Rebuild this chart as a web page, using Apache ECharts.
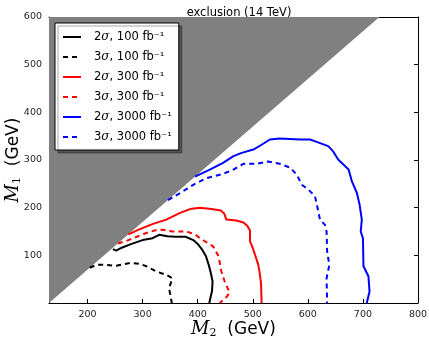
<!DOCTYPE html>
<html>
<head>
<meta charset="utf-8">
<script src="https://cdn.jsdelivr.net/npm/echarts@6/dist/echarts.min.js"></script>
<style>
    html, body { margin: 0; padding: 0; background: #fff; }
    #exclusion-chart { width: 429px; height: 341px; }
</style>
</head>
<body>
<div id="exclusion-chart"></div>
<script>
// kinematically forbidden region: M1 > M2 - 130
const forbidden = [[130, 0], [730, 600]];

// contours, [M2, M1] in GeV
const sig2L100 = [[246, 113], [252, 110], [262, 116], [280, 124], [300, 132], [318, 136], [330, 143], [345, 140],
    [360, 139], [378, 139], [392, 132], [400, 124], [408, 112], [415, 98], [420, 80], [424, 62], [427, 45], [426, 25], [421, 0]];
const sig3L100 = [[204, 74], [216, 80], [234, 80], [252, 78], [277, 84], [295, 82], [307, 77], [325, 66], [343, 59],
    [354, 52], [348, 31], [353, 0]];
const sig2L300 = [[274, 144], [295, 155], [319, 166], [343, 175], [368, 189], [386, 197], [404, 200], [425, 197],
    [442, 194], [448, 188], [452, 175], [470, 173], [483, 169], [490, 162], [495, 152], [495, 130], [500, 115],
    [505, 98], [510, 80], [513, 60], [515, 40], [516, 0]];
const sig3L300 = [[255, 125], [270, 130], [283, 136], [307, 147], [328, 154], [340, 153], [355, 150], [380, 150],
    [395, 144], [404, 136], [418, 126], [428, 119], [437, 100], [440, 85], [443, 66], [449, 45], [458, 22], [452, 12], [440, 0]];
const sig2L3000 = [[395, 265], [422, 280], [446, 294], [465, 308], [480, 315], [501, 322], [516, 332], [531, 343],
    [549, 345], [586, 343], [604, 343], [616, 338], [637, 329], [646, 318], [655, 301], [674, 280], [680, 255],
    [689, 231], [694, 206], [698, 175], [696, 150], [700, 136], [701, 77], [710, 56], [712, 24], [707, 0]];
const sig3L3000 = [[346, 216], [370, 232], [392, 248], [416, 262], [446, 271], [465, 280], [483, 292], [507, 292],
    [528, 297], [549, 292], [568, 284], [580, 269], [589, 248], [601, 238], [613, 224], [619, 192], [622, 175],
    [631, 164], [634, 150], [635, 108], [639, 80], [634, 52], [635, 0]];

const names = ['2σ, 100 fb⁻¹', '3σ, 100 fb⁻¹', '2σ, 300 fb⁻¹', '3σ, 300 fb⁻¹', '2σ, 3000 fb⁻¹', '3σ, 3000 fb⁻¹'];
const xTicks = [200, 300, 400, 500, 600, 700, 800];
const yTicks = [100, 200, 300, 400, 500, 600];

const FONT = 'DejaVu Sans';
const dash = [5, 4];

function contour(name, data, color, dashed) {
    return {
        name: name,
        type: 'line',
        data: data,
        symbol: 'none',
        z: 3,
        color: color,
        lineStyle: { color: color, width: 2, type: dashed ? dash : 'solid' }
    };
}

const axisNameStyle = {
    fontFamily: FONT, fontSize: 17, color: '#000',
    rich: {
        m: { fontFamily: 'DejaVu Serif', fontStyle: 'italic', fontSize: 18, color: '#000' },
        sub: { fontFamily: 'DejaVu Serif', fontSize: 11, color: '#000', verticalAlign: 'bottom', padding: [8, 0, 0, 0] }
    }
};

const option = {
    animation: false,
    title: {
        text: 'exclusion (14 TeV)',
        left: 234,
        top: 2,
        textAlign: 'center',
        textStyle: { fontFamily: FONT, fontSize: 11.5, fontWeight: 'normal', color: '#000' }
    },
    grid: { left: 49, top: 17, width: 369, height: 286, outerBoundsMode: 'none', containLabel: false },
    legend: {
        orient: 'vertical',
        left: 55,
        top: 23,
        data: names,
        backgroundColor: '#fff',
        borderColor: '#000',
        borderWidth: 1,
        borderRadius: 0,
        padding: [8, 7, 7, 7],
        itemWidth: 18,
        itemHeight: 12,
        itemGap: 8,
        // hide the marker drawn on the legend line sample
        itemStyle: { opacity: 0, borderWidth: 0 },
        shadowColor: 'rgba(0,0,0,0.35)',
        shadowOffsetX: 3,
        shadowOffsetY: 3,
        shadowBlur: 0,
        formatter: name => name.replace('σ', '{s|σ}'),
        textStyle: {
            fontFamily: FONT,
            fontSize: 11.5,
            color: '#000',
            padding: [0, 0, 0, 8],
            rich: {
                s: { fontFamily: 'DejaVu Serif', fontStyle: 'italic', fontSize: 12, color: '#000' }
            }
        }
    },
    xAxis: [{
        type: 'value',
        min: 130,
        max: 800,
        name: '{m|M}{sub|2}  (GeV)',
        nameLocation: 'middle',
        nameGap: 17,
        nameMoveOverlap: false,
        nameTextStyle: axisNameStyle,
        axisLine: { show: true, onZero: false, lineStyle: { color: '#000', width: 1 } },
        axisTick: { show: true, inside: true, length: 4, customValues: xTicks, lineStyle: { color: '#000' } },
        axisLabel: { customValues: xTicks, fontFamily: FONT, fontSize: 9.5, color: '#222', margin: 7 },
        splitLine: { show: false }
    }, {
        type: 'value',
        position: 'top',
        min: 130,
        max: 800,
        axisLine: { show: true, onZero: false, lineStyle: { color: '#000', width: 1 } },
        axisTick: { show: true, inside: true, length: 4, customValues: xTicks, lineStyle: { color: '#000' } },
        axisLabel: { show: false },
        splitLine: { show: false }
    }],
    yAxis: [{
        type: 'value',
        min: 0,
        max: 600,
        interval: 100,
        name: '{m|M}{sub|1}  (GeV)',
        nameLocation: 'middle',
        nameGap: 26,
        nameMoveOverlap: false,
        nameRotate: 90,
        nameTextStyle: axisNameStyle,
        axisLine: { show: true, onZero: false, lineStyle: { color: '#000', width: 1 } },
        axisTick: { show: true, inside: true, length: 4, lineStyle: { color: '#000' } },
        axisLabel: { customValues: yTicks, fontFamily: FONT, fontSize: 9.5, color: '#222', margin: 7 },
        splitLine: { show: false }
    }, {
        type: 'value',
        position: 'right',
        min: 0,
        max: 600,
        interval: 100,
        axisLine: { show: true, onZero: false, lineStyle: { color: '#000', width: 1 } },
        axisTick: { show: true, inside: true, length: 4, lineStyle: { color: '#000' } },
        axisLabel: { show: false },
        splitLine: { show: false }
    }],
    series: [
        {
            name: 'forbidden',
            type: 'line',
            data: forbidden,
            symbol: 'none',
            z: 1,
            lineStyle: { width: 0 },
            areaStyle: { origin: 'end', color: '#808080', opacity: 1 }
        },
        contour(names[0], sig2L100, '#000000', false),
        contour(names[1], sig3L100, '#000000', true),
        contour(names[2], sig2L300, '#ff0000', false),
        contour(names[3], sig3L300, '#ff0000', true),
        contour(names[4], sig2L3000, '#0000ff', false),
        contour(names[5], sig3L3000, '#0000ff', true)
    ]
};

const chart = echarts.init(document.getElementById('exclusion-chart'));
chart.setOption(option);
</script>
</body>
</html>
